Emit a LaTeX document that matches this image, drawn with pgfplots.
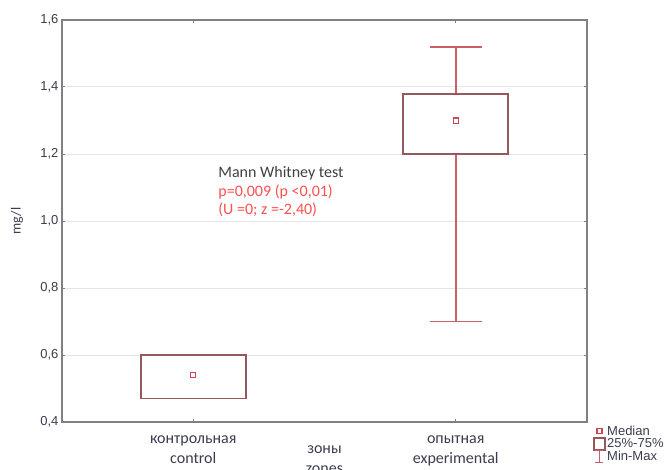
\documentclass[border=0pt]{standalone}
\usepackage{fontspec}
\setmainfont{Liberation Sans}
\newfontfamily\calfont{Carlito}
\usepackage{pgfplots}
\pgfplotsset{compat=1.18}
\usepgfplotslibrary{statistics}

\definecolor{boxcol}{RGB}{150,88,92}
\definecolor{whiskcol}{RGB}{200,96,106}
\definecolor{medcol}{RGB}{205,70,80}
\definecolor{axcol}{RGB}{128,128,128}
\definecolor{gridcol}{RGB}{228,228,228}
\definecolor{tickcol}{RGB}{60,60,80}
\definecolor{notered}{RGB}{250,80,80}
\definecolor{notegray}{RGB}{64,64,64}

\begin{document}
\begin{tikzpicture}[x=1pt,y=1pt]
\useasboundingbox (-62,-47) rectangle (609,422);
\begin{axis}[
    at={(0,0)}, anchor=south west,
    scale only axis,
    width=525pt, height=402pt,
    xmin=-0.5, xmax=1.5,
    ymin=0.4, ymax=1.6,
    xtick={0,1},
    xticklabels={{контрольная\\control},{опытная\\experimental}},
    xticklabel style={align=center, text=tickcol, yshift=-10pt,
        font=\calfont\fontsize{16}{20}\selectfont},
    ytick={0.4,0.6,...,1.6},
    yticklabel style={text=tickcol, font=\fontsize{13}{13}\selectfont},
    /pgf/number format/.cd, use comma, fixed, fixed zerofill, precision=1,
        assume math mode=true,
    /pgfplots/.cd,
    ymajorgrids,
    grid style={gridcol, line width=1pt},
    axis line style={axcol, line width=1.5pt},
    major tick length=3pt,
    tick style={axcol, line width=1pt},
    tick pos=both,
    ylabel={mg/l},
    ylabel style={at={(axis description cs:0,0.5)}, yshift=45pt,
        anchor=center, text=tickcol,
        font=\calfont\fontsize{14}{14}\selectfont},
    xlabel={зоны\\zones},
    xlabel style={at={(axis description cs:0.5,0)}, anchor=north,
        yshift=-20pt, align=center, text=tickcol,
        font=\calfont\fontsize{16}{20}\selectfont},
    legend style={at={(rel axis cs:1,0)}, anchor=north west,
        xshift=6pt, yshift=-2pt, draw=none, fill=none,
        font=\fontsize{13}{13}\selectfont, text=tickcol,
        row sep=-1pt, inner sep=0pt,
        nodes={inner sep=1.5pt}},
    legend cell align=left,
    boxplot/draw direction=y,
    boxplot/every median/.style={draw=none},
]
\addlegendimage{legend image code/.code={
    \draw[medcol, line width=1.2pt] (3pt,-2.5pt) rectangle (8pt,2.5pt);}}
\addlegendentry{Median}
\addlegendimage{legend image code/.code={
    \draw[boxcol, line width=1.5pt] (0pt,-6pt) rectangle (11pt,6pt);}}
\addlegendentry{25\%-75\%}
\addlegendimage{legend image code/.code={
    \draw[whiskcol, line width=1.3pt] (5.5pt,-6pt) -- (5.5pt,6pt)
        (1.5pt,6pt) -- (9.5pt,6pt) (1.5pt,-6pt) -- (9.5pt,-6pt);}}
\addlegendentry{Min-Max}

% control
\addplot[forget plot, draw=boxcol, line width=1.7pt, boxplot prepared={
    draw position=0, box extend=0.4, whisker extend=0.2,
    lower whisker=0.47, lower quartile=0.47, median=0.54,
    upper quartile=0.60, upper whisker=0.60,
    every box/.style={draw=boxcol, line width=1.7pt},
    every whisker/.style={draw=none}}] coordinates {};
% experimental
\addplot[forget plot, draw=whiskcol, line width=1.7pt, boxplot prepared={
    draw position=1, box extend=0.4, whisker extend=0.2,
    lower whisker=0.70, lower quartile=1.20, median=1.30,
    upper quartile=1.38, upper whisker=1.52,
    every box/.style={draw=boxcol, line width=1.7pt},
    every whisker/.style={draw=whiskcol, line width=1.7pt}}] coordinates {};
% medians
\addplot[forget plot, only marks, mark=square, mark size=2.6pt,
    mark options={medcol, line width=1.2pt}]
    coordinates {(0,0.54) (1,1.30)};

\node[anchor=north west, align=left, inner sep=0pt,
    font=\calfont\fontsize{16}{18.5}\selectfont]
    at (axis cs:0.095,1.163)
    {\textcolor{notegray}{Mann Whitney test}\\
     \textcolor{notered}{p=0,009 (p <0,01)}\\
     \textcolor{notered}{(U =0; z =-2,40)}};
\end{axis}
\end{tikzpicture}
\end{document}
